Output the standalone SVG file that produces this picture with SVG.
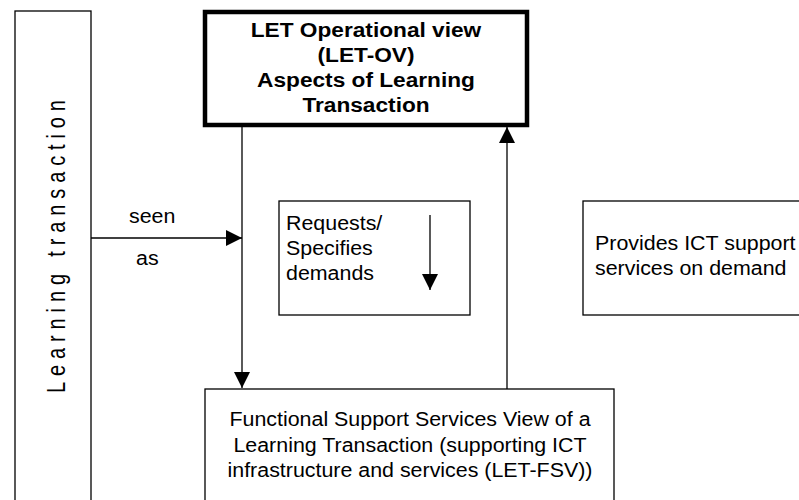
<svg xmlns="http://www.w3.org/2000/svg" width="799" height="500" viewBox="0 0 799 500">
<style>
.box{fill:#fff;stroke:#000;stroke-width:1.3}
.thick{fill:#fff;stroke:#000;stroke-width:4.5}
.t{font-family:"Liberation Sans",Arial,sans-serif;font-size:20px;fill:#000}
.b{font-weight:bold;font-size:21px;text-anchor:middle}
.c{text-anchor:middle}
.ln{stroke:#000;stroke-width:1.3;fill:none}
</style>
<defs>
<marker id="ah" markerWidth="16" markerHeight="16" refX="16" refY="8" orient="auto" markerUnits="userSpaceOnUse">
<path d="M0,0 L16,8 L0,16 Z" fill="#000"/>
</marker>
</defs>
<rect width="799" height="500" fill="#fff"/>
<g id="learning-transaction">
<rect class="box" x="15" y="11" width="76" height="495"/>
<text class="t" transform="translate(65,246.5) rotate(-90) scale(1,1.25)" text-anchor="middle" textLength="293" lengthAdjust="spacing">Learning transaction</text>
</g>
<g id="let-ov">
<rect class="thick" x="205" y="12" width="322" height="113"/>
<text class="t b" transform="translate(366,37) scale(1.08,1)">LET Operational view</text>
<text class="t b" transform="translate(366,62) scale(1.08,1)">(LET-OV)</text>
<text class="t b" transform="translate(366,87) scale(1.08,1)">Aspects of Learning</text>
<text class="t b" transform="translate(366,112) scale(1.08,1)">Transaction</text>
</g>
<g id="requests">
<rect class="box" x="279" y="201" width="191" height="114"/>
<text class="t" transform="translate(286,230) scale(1.07,1)">Requests/</text>
<text class="t" transform="translate(286,255) scale(1.07,1)">Specifies</text>
<text class="t" transform="translate(286,280) scale(1.07,1)">demands</text>
</g>
<g id="provides">
<rect class="box" x="583" y="201" width="230" height="114"/>
<text class="t" transform="translate(595,250) scale(1.07,1)">Provides ICT support</text>
<text class="t" transform="translate(595,275) scale(1.07,1)">services on demand</text>
</g>
<g id="let-fsv">
<rect class="box" x="205" y="389" width="409" height="120"/>
<text class="t c" transform="translate(410,426) scale(1.07,1)">Functional Support Services View of a</text>
<text class="t c" transform="translate(410,452) scale(1.07,1)">Learning Transaction (supporting ICT</text>
<text class="t c" transform="translate(410,477) scale(1.07,1)">infrastructure and services (LET-FSV))</text>
</g>
<g id="connectors">
<line class="ln" x1="91" y1="238" x2="242" y2="238" marker-end="url(#ah)"/>
<text class="t" transform="translate(129,223) scale(1.07,1)">seen</text>
<text class="t" transform="translate(136,265) scale(1.07,1)">as</text>
<line class="ln" x1="242" y1="127" x2="242" y2="388" marker-end="url(#ah)"/>
<line class="ln" x1="507" y1="389" x2="507" y2="127" marker-end="url(#ah)"/>
<line class="ln" x1="430" y1="215" x2="430" y2="290" marker-end="url(#ah)"/>
</g>
</svg>
